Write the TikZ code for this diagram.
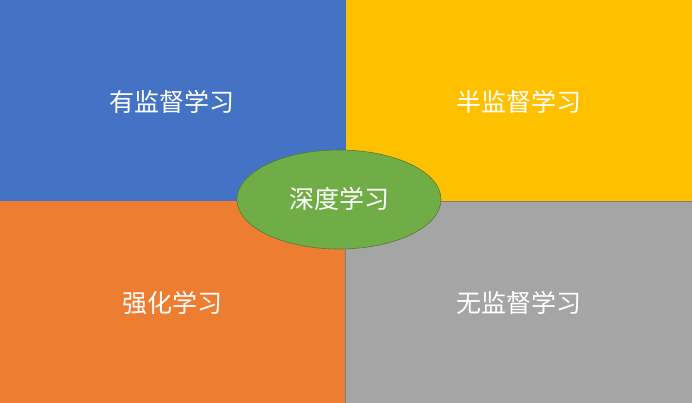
\documentclass[tikz,border=0pt]{standalone}
\usepackage{fontspec}
\newfontfamily\cjk{Noto Sans CJK SC}
\usetikzlibrary{shapes.geometric}
\definecolor{qblue}{HTML}{4472C4}
\definecolor{qyellow}{HTML}{FFC000}
\definecolor{qorange}{HTML}{ED7D31}
\definecolor{qgray}{HTML}{A5A5A5}
\definecolor{qgrayline}{HTML}{7F7F7F}
\definecolor{qgreen}{HTML}{70AD47}
\definecolor{qgreenline}{HTML}{507E32}
\tikzset{
  quad/.style={draw=none, inner sep=0pt, outer sep=0pt, minimum width=345.5pt, minimum height=201pt},
  lab/.style={text=white, font=\cjk\fontsize{25pt}{27pt}\selectfont, inner sep=0pt},
}
\begin{document}
\begin{tikzpicture}[x=1pt,y=-1pt]
\useasboundingbox (0,0) rectangle (692,403);
\node[quad, fill=qblue, anchor=north west, minimum width=345.5pt, minimum height=201pt] (tl) at (0,0) {};
\node[quad, fill=qyellow, anchor=north west, minimum width=346.5pt, minimum height=201pt] (tr) at (345.5,0) {};
\node[quad, fill=qorange, anchor=north west, minimum width=345.5pt, minimum height=202pt] (bl) at (0,201) {};
\node[quad, fill=qgray, draw=qgrayline, line width=0.6pt, anchor=north west, minimum width=346.5pt, minimum height=202pt] (br) at (345.5,201) {};
\node[lab] (t1) at (172,101.5) {有监督学习};
\node[lab] (t2) at (518.5,101.5) {半监督学习};
\node[lab] (t3) at (172,302.5) {强化学习};
\node[lab] (t4) at (518.5,302.5) {无监督学习};
\node[ellipse, fill=qgreen, draw=qgreenline, line width=0.6pt, minimum width=204pt, minimum height=99pt, inner sep=0pt] (c) at (339,199.5) {};
\node[lab] (ct) at ([yshift=0.5pt]c.center) {深度学习};
\end{tikzpicture}
\end{document}
